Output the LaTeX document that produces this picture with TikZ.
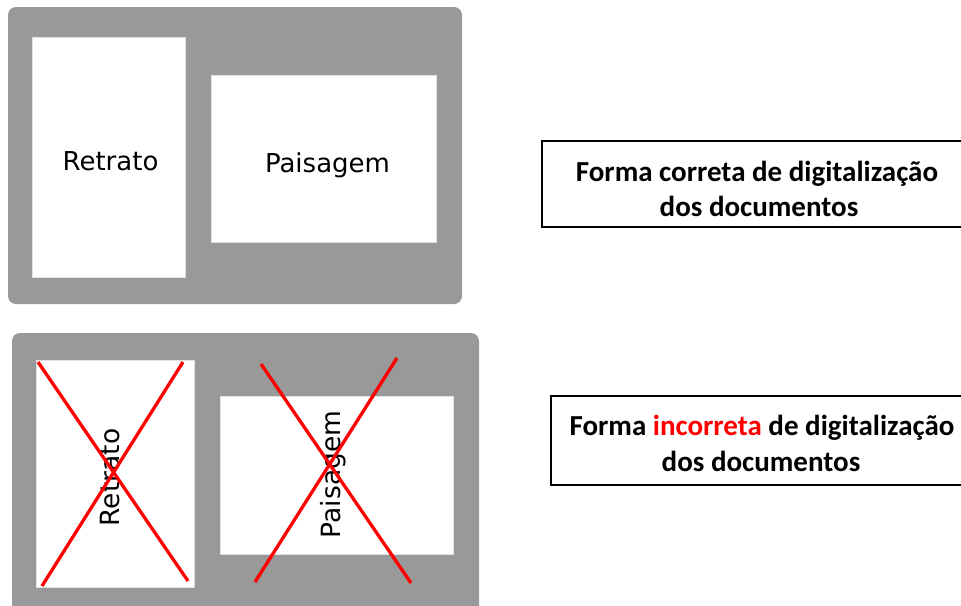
\documentclass[tikz,border=0pt]{standalone}
\usepackage{fontspec}
\newfontfamily\dejavu{DejaVu Sans}
\newfontfamily\carlito{Carlito}
\definecolor{panelgray}{RGB}{153,153,153}
\definecolor{xred}{RGB}{255,0,0}
\begin{document}
\begin{tikzpicture}[x=1pt,y=-1pt,
  panel/.style={fill=panelgray,draw=none,rounded corners=8pt},
  sheet/.style={fill=white,draw=black!12,line width=0.8pt},
  label/.style={font=\dejavu\fontsize{26}{30}\selectfont,inner sep=0pt,anchor=base},
  vlabel/.style={font=\dejavu\fontsize{26.5}{31}\selectfont,inner sep=0pt,anchor=base,rotate=90},
  capbox/.style={draw=black,line width=2pt,fill=white},
  captext/.style={font=\carlito\bfseries\fontsize{29}{34}\selectfont,inner sep=0pt,anchor=base},
  cross/.style={draw=xred,line width=3.3pt}]
\useasboundingbox (0,0) rectangle (961,605);
\clip (0,0) rectangle (961,605);
\fill[white] (0,0) rectangle (961,605);

% top panel: correct
\path[panel] (8,7) rectangle (462,304);
\path[sheet] (32,37) rectangle (185,277);
\path[sheet] (211,75) rectangle (436,242);
\node[label] (retA) at (110.5,170) {Retrato};
\node[label] (paiA) at (327.5,172.5) {Paisagem};

% bottom panel: incorrect
\path[panel] (12,333) rectangle (479,640);
\path[sheet] (36,360) rectangle (194,587);
\path[sheet] (220,396) rectangle (453,554);
\node[vlabel] (retB) at (119,477.5) {Retrato};
\node[vlabel] (paiB) at (340,474.5) {Paisagem};

\coordinate (r1a) at (38,362);  \coordinate (r1b) at (188,581);
\coordinate (r2a) at (183,362); \coordinate (r2b) at (42,586);
\coordinate (p1a) at (261,364); \coordinate (p1b) at (411,583);
\coordinate (p2a) at (397,358); \coordinate (p2b) at (255,582);
\draw[cross] (r1a) -- (r1b);
\draw[cross] (r2a) -- (r2b);
\draw[cross] (p1a) -- (p1b);
\draw[cross] (p2a) -- (p2b);

% caption boxes
\path[capbox] (542,141) rectangle (975,227);
\node[captext] (capA1) at (757,181) {Forma correta de digitalização};
\node[captext] (capA2) at (759,216.5) {dos documentos};

\path[capbox] (551,396) rectangle (975,485);
\node[captext] (capB1) at (762,435) {Forma \textcolor{xred}{incorreta} de digitalização};
\node[captext] (capB2) at (761,471) {dos documentos};
\end{tikzpicture}
\end{document}
